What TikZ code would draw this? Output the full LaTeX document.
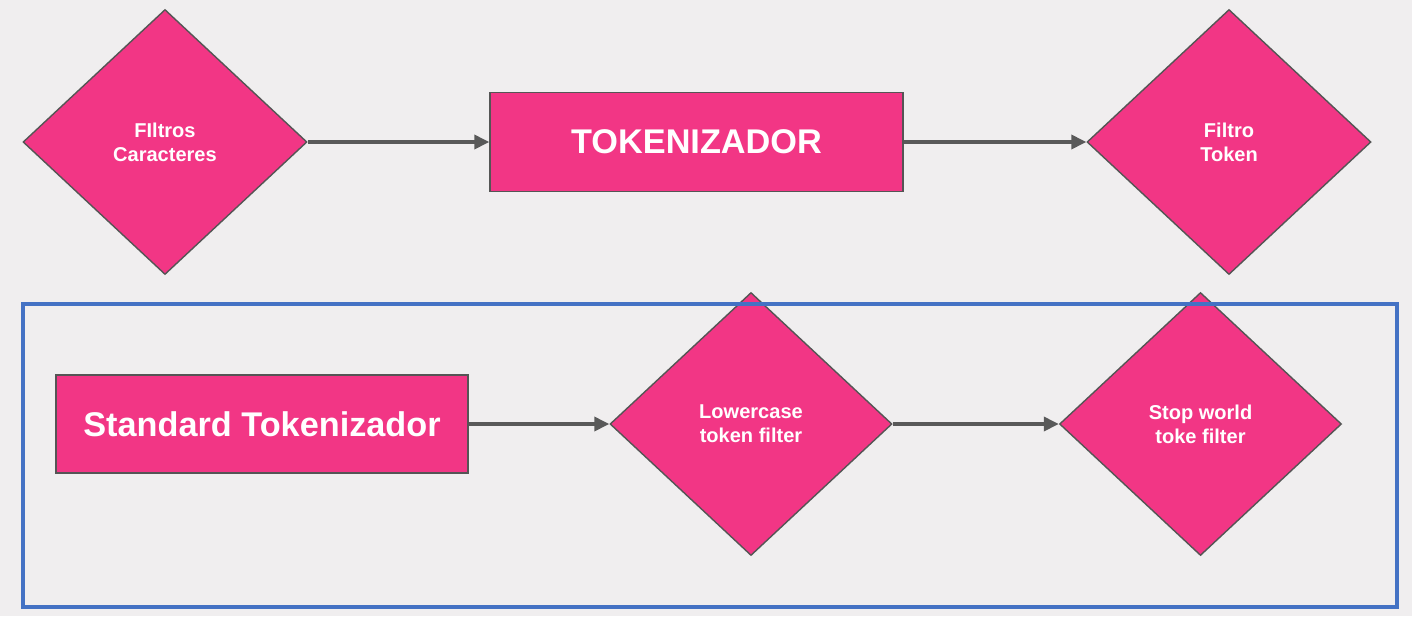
\documentclass[tikz,border=0pt]{standalone}
\usepackage{fontspec}
\setmainfont{Liberation Sans}
\usepackage{tikz}
\usetikzlibrary{arrows.meta,shapes.geometric}
\definecolor{fondo}{RGB}{240,238,239}
\definecolor{rosa}{RGB}{242,54,133}
\definecolor{borde}{RGB}{85,85,85}
\definecolor{flecha}{RGB}{89,89,89}
\definecolor{azul}{RGB}{68,114,196}

\begin{document}
\begin{tikzpicture}[
   filtro/.style={diamond, draw=borde, line width=0.8pt, fill=rosa, text=white, inner sep=0pt,
     minimum width=5.68cm, minimum height=5.30cm, align=center,
     font=\fontsize{11.4}{13.6}\selectfont\bfseries},
   caja/.style={rectangle, draw=borde, line width=0.8pt, fill=rosa, text=white,
     minimum width=8.26cm, minimum height=1.98cm,
     font=\fontsize{19.5}{23}\selectfont\bfseries},
   flujo/.style={draw=flecha, line width=2pt, -{Triangle[length=0.30cm, width=0.28cm]}}]
   \fill[fondo] (0,0) rectangle (28.24,-12.32);
   % fila de arriba
   \node[filtro] (caracteres) at (3.30,-2.84) {FIltros\\Caracteres};
   \node[caja] (tokenizador) at (13.93,-2.84) {TOKENIZADOR};
   \node[filtro] (token) at (24.58,-2.84) {Filtro\\Token};
   \draw[flujo] (caracteres) -- (tokenizador);
   \draw[flujo] (tokenizador) -- (token);
   % fila de abajo
   \node[caja, minimum width=8.24cm, minimum height=1.96cm] (standard) at (5.24,-8.48) {Standard Tokenizador};
   \node[filtro, minimum width=5.64cm, minimum height=5.26cm] (lowercase) at (15.02,-8.48) {Lowercase\\token filter};
   \node[filtro, minimum width=5.64cm, minimum height=5.26cm] (stopworld) at (24.01,-8.48) {Stop world\\toke filter};
   \draw[flujo] (standard) -- (lowercase);
   \draw[flujo] (lowercase) -- (stopworld);
   \draw[color=azul, line width=2.4pt] (0.46,-6.08) rectangle (27.94,-12.14);
\end{tikzpicture}
\end{document}
